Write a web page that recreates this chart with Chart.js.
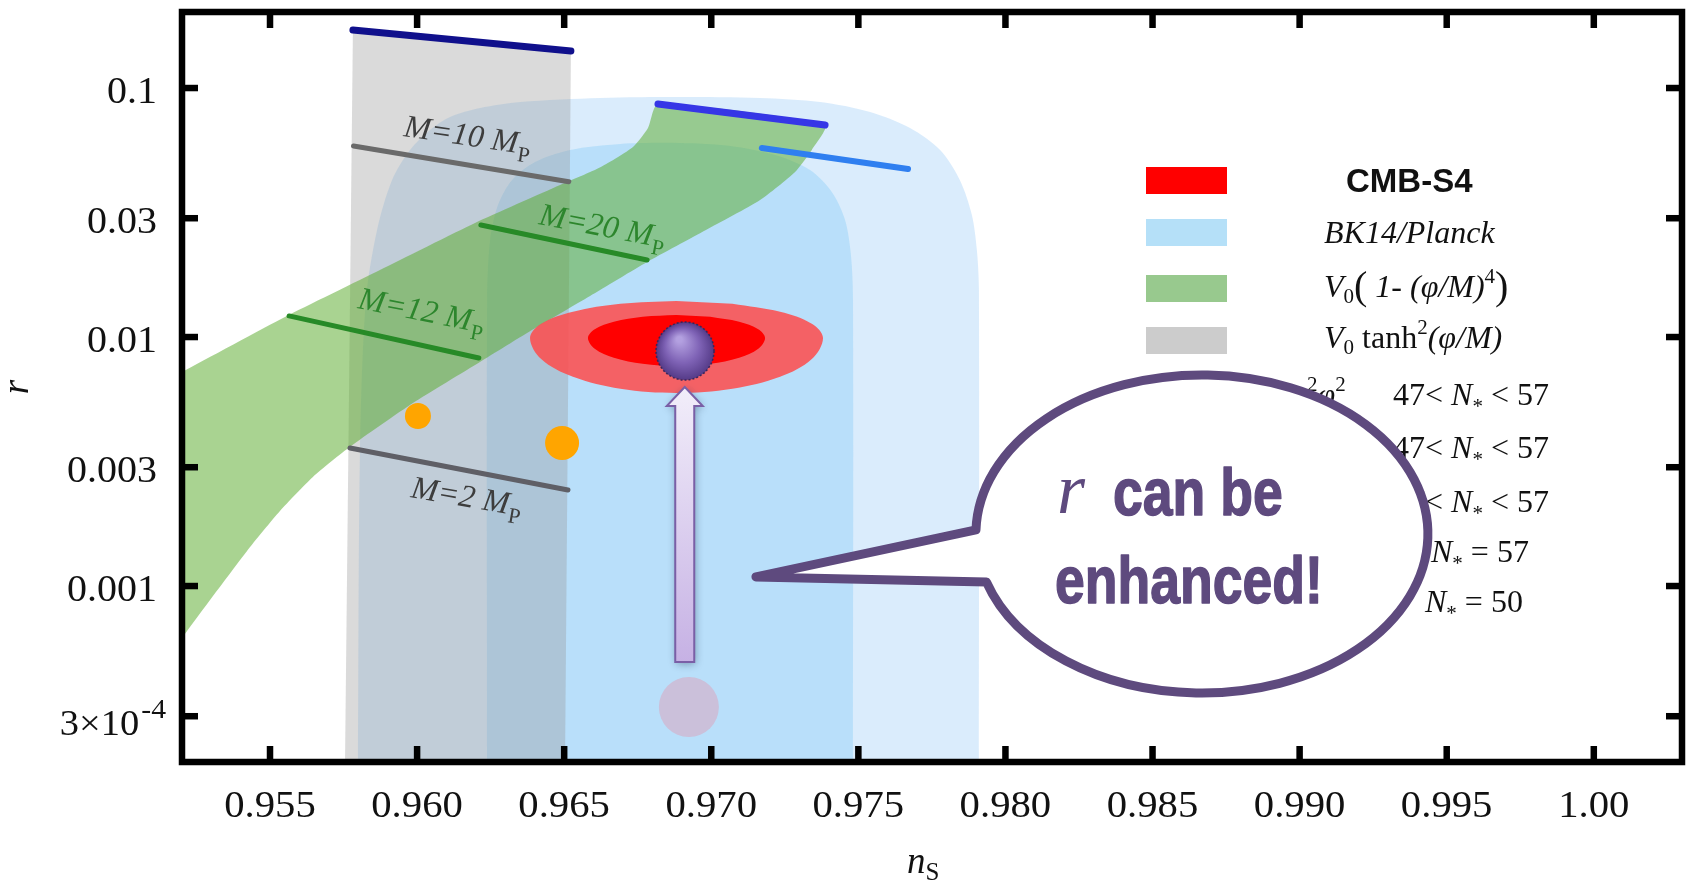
<!DOCTYPE html>
<html>
<head>
<meta charset="utf-8">
<title>r vs n_s</title>
<script src="https://cdn.jsdelivr.net/npm/chart.js@4.4.1/dist/chart.umd.min.js"></script>
<style>
  html, body { margin: 0; padding: 0; background: #fff; }
  canvas { display: block; }
</style>
</head>
<body>
<canvas id="chart" width="1690" height="886"></canvas>
<script>
// axis ticks
const xTickValues = [0.955, 0.960, 0.965, 0.970, 0.975, 0.980, 0.985, 0.990, 0.995, 1.000];
const xTickLabels = ['0.955', '0.960', '0.965', '0.970', '0.975', '0.980', '0.985', '0.990', '0.995', '1.00'];
const yTickValues = [0.0003, 0.001, 0.003, 0.01, 0.03, 0.1];
const yTickLabels = ['3×10^-4', '0.001', '0.003', '0.01', '0.03', '0.1'];

// BK14/Planck allowed regions, [n_s, r]
const bk14Outer = [[0.95799, 0.00019], [0.95806, 0.003517], [0.95826, 0.01408], [0.95864, 0.02690], [0.95915, 0.04272],
  [0.95976, 0.05637], [0.96044, 0.06783], [0.96112, 0.07648], [0.96214, 0.08311], [0.96350, 0.08786], [0.96622, 0.09116],
  [0.96894, 0.09202], [0.97166, 0.09116], [0.97370, 0.08786], [0.97540, 0.08012], [0.97676, 0.06909], [0.97778, 0.05637],
  [0.97845, 0.04272], [0.97886, 0.03090], [0.97903, 0.02235], [0.97910, 0.01544], [0.97910, 0.00019]];
const bk14Inner = [[0.96238, 0.00019], [0.96238, 0.01408], [0.96248, 0.02453], [0.96275, 0.03390], [0.96323, 0.04272],
  [0.96401, 0.05044], [0.96520, 0.05637], [0.96690, 0.05958], [0.96894, 0.06014], [0.97064, 0.05851], [0.97217, 0.05380],
  [0.97336, 0.04684], [0.97410, 0.03823], [0.97455, 0.02951], [0.97475, 0.02135], [0.97482, 0.01408], [0.97482, 0.00019]];

// V0 tanh^2(phi/M)
const tanhBand = [[0.95755, 0.00019], [0.95782, 0.1710], [0.96523, 0.1408], [0.96503, 0.00019]];
const tanhTop = [[0.95782, 0.1710], [0.96523, 0.1408]];
const tanhM10 = [[0.95784, 0.05851], [0.96516, 0.04204]];
const tanhM2 = [[0.95772, 0.003583], [0.96513, 0.002430]];

// V0 (1 - (phi/M)^4)
const quarticBand = [[0.95092, 0.00618], [0.95201, 0.00723], [0.95551, 0.01203], [0.95874, 0.01858], [0.96197, 0.02870],
  [0.96486, 0.04077], [0.96625, 0.04817], [0.96734, 0.05796], [0.96785, 0.06909], [0.96819, 0.08625],
  [0.97387, 0.07100], [0.97342, 0.05637], [0.97285, 0.04600], [0.97166, 0.03550], [0.96982, 0.02690], [0.96782, 0.02001],
  [0.96588, 0.01461], [0.96374, 0.01038], [0.96214, 0.00794], [0.95986, 0.005431], [0.95772, 0.00362], [0.95646, 0.00274],
  [0.95534, 0.002000], [0.95422, 0.001382], [0.95211, 0.0006416], [0.95126, 0.0004599]];
const quarticTop = [[0.96819, 0.08625], [0.97387, 0.07100]];
const quarticSecond = [[0.97172, 0.05741], [0.97669, 0.04728]];
const quarticM12 = [[0.95565, 0.01215], [0.96210, 0.008235]];
const quarticM20 = [[0.96217, 0.02818], [0.96782, 0.02038]];

// CMB-S4 forecast contours
const cmbOuter = [[0.96882, 0.013950], [0.96691, 0.013592], [0.96530, 0.012624], [0.96422, 0.011294], [0.96384, 0.009908],
  [0.96422, 0.008154], [0.96530, 0.006915], [0.96691, 0.006191], [0.96882, 0.005958], [0.97072, 0.006191],
  [0.97234, 0.006915], [0.97342, 0.008154], [0.97380, 0.009908], [0.97342, 0.011294], [0.97234, 0.012624],
  [0.97072, 0.013592]];
const cmbInner = [[0.96882, 0.012260], [0.96767, 0.012059], [0.96669, 0.011516], [0.96604, 0.010747], [0.96581, 0.009908],
  [0.96604, 0.008972], [0.96669, 0.008249], [0.96767, 0.007800], [0.96882, 0.007648], [0.96997, 0.007800],
  [0.97095, 0.008249], [0.97160, 0.008972], [0.97183, 0.009908], [0.97160, 0.010747], [0.97095, 0.011516],
  [0.96997, 0.012059]];

const orangePoints = [[0.96003, 0.004817], [0.96493, 0.003752]];
const rBefore = [[0.96924, 0.0003266]];
const rAfter = [[0.96911, 0.008786]];
const arrowNs = 0.9691, arrowFrom = 0.0004953, arrowTo = 0.006298;
const bubbleCenter = [0.98668, 0.001617], bubbleTip = [0.97152, 0.001087];

const pts = arr => arr.map(p => ({ x: p[0], y: p[1] }));
const serif = '"Liberation Serif", "Times New Roman", serif';

function sphere(r) {
  const c = document.createElement('canvas');
  c.width = c.height = 2 * r + 4;
  const g = c.getContext('2d');
  const m = r + 2;
  const grad = g.createRadialGradient(m - r * 0.2, m - r * 0.4, r * 0.1, m, m, r);
  grad.addColorStop(0, '#b3a0e0');
  grad.addColorStop(0.55, '#7f63b6');
  grad.addColorStop(1, '#553b88');
  g.beginPath();
  g.arc(m, m, r, 0, Math.PI * 2);
  g.fillStyle = grad;
  g.fill();
  g.setLineDash([2, 2]);
  g.strokeStyle = '#36265a';
  g.lineWidth = 1.5;
  g.stroke();
  return c;
}

const shape = (data, color, order, tension) => ({
  data: pts(data), fill: 'shape', backgroundColor: color, borderColor: 'transparent', borderWidth: 0,
  pointRadius: 0, pointHitRadius: 0, tension: tension, order: order
});
const segment = (data, color, width, order) => ({
  data: pts(data), fill: false, borderColor: color, borderWidth: width, borderCapStyle: 'round',
  pointRadius: 0, pointHitRadius: 0, order: order
});

function rich(ctx, x, y, parts) {
  parts.forEach(p => {
    ctx.font = p[1];
    ctx.fillText(p[0], x, y + (p[2] || 0));
    x += ctx.measureText(p[0]).width;
  });
}

function stretched(ctx, text, x, y, align, sx, bold) {
  ctx.save();
  ctx.translate(x, y);
  ctx.scale(sx, 1);
  ctx.textAlign = align;
  ctx.fillText(text, 0, 0);
  if (bold) {
    ctx.lineWidth = bold;
    ctx.strokeStyle = ctx.fillStyle;
    ctx.lineJoin = 'round';
    ctx.strokeText(text, 0, 0);
  }
  ctx.restore();
}

const lineLabels = [
  { text: 'M=10 M', line: tanhM10, at: [0.95952, 0.06416], color: '#3d3d3d' },
  { text: 'M=20 M', line: quarticM20, at: [0.96411, 0.02843], color: '#2d862d' },
  { text: 'M=12 M', line: quarticM12, at: [0.95796, 0.01308], color: '#2d862d' },
  { text: 'M=2 M', line: tanhM2, at: [0.95976, 0.002277], color: '#3d3d3d' }
];

const overlay = {
  id: 'overlay',
  afterDatasetsDraw(chart) {
    const ctx = chart.ctx, xs = chart.scales.x, ys = chart.scales.y;
    const px = v => xs.getPixelForValue(v), py = v => ys.getPixelForValue(v);

    // arrow from today's r to the enhanced r
    const ax = px(arrowNs), yTip = py(arrowTo), yEnd = py(arrowFrom);
    const sw = 9.5, hw = 18, hl = 19;
    ctx.save();
    ctx.beginPath();
    ctx.moveTo(ax, yTip);
    ctx.lineTo(ax + hw, yTip + hl);
    ctx.lineTo(ax + sw, yTip + hl);
    ctx.lineTo(ax + sw, yEnd);
    ctx.lineTo(ax - sw, yEnd);
    ctx.lineTo(ax - sw, yTip + hl);
    ctx.lineTo(ax - hw, yTip + hl);
    ctx.closePath();
    const g = ctx.createLinearGradient(0, yTip, 0, yEnd);
    g.addColorStop(0, '#f2eefa');
    g.addColorStop(1, '#c6b1e4');
    ctx.shadowColor = 'rgba(40,60,90,0.45)';
    ctx.shadowBlur = 8;
    ctx.shadowOffsetX = 1;
    ctx.shadowOffsetY = 2;
    ctx.fillStyle = g;
    ctx.fill();
    ctx.shadowColor = 'transparent';
    ctx.strokeStyle = '#7a5fa6';
    ctx.lineWidth = 2;
    ctx.stroke();
    ctx.restore();

    // labels along the M lines
    lineLabels.forEach(l => {
      const p0 = l.line[0], p1 = l.line[1];
      const ang = Math.atan2(py(p1[1]) - py(p0[1]), px(p1[0]) - px(p0[0]));
      ctx.save();
      ctx.translate(px(l.at[0]), py(l.at[1]));
      ctx.rotate(ang * 0.9);
      ctx.fillStyle = l.color;
      ctx.textAlign = 'left';
      ctx.textBaseline = 'alphabetic';
      ctx.font = 'italic 32px ' + serif;
      ctx.fillText(l.text, 0, 0);
      const w = ctx.measureText(l.text).width;
      ctx.font = '22px ' + serif;
      ctx.fillText('P', w + 1, 8);
      ctx.restore();
    });
  },
  afterDraw(chart) {
    const ctx = chart.ctx, a = chart.chartArea, xs = chart.scales.x, ys = chart.scales.y;
    const px = v => xs.getPixelForValue(v), py = v => ys.getPixelForValue(v);
    ctx.save();
    ctx.textBaseline = 'alphabetic';

    // frame and inward ticks
    ctx.strokeStyle = '#000';
    ctx.fillStyle = '#000';
    ctx.lineWidth = 6.5;
    ctx.strokeRect(a.left, a.top, a.right - a.left, a.bottom - a.top);
    xTickValues.forEach(v => {
      const x = px(v);
      ctx.fillRect(x - 3.2, a.bottom - 16, 6.5, 16);
      ctx.fillRect(x - 3.2, a.top, 6.5, 16);
    });
    yTickValues.forEach(v => {
      const y = py(v);
      ctx.fillRect(a.left, y - 3.2, 16, 6.5);
      ctx.fillRect(a.right - 16, y - 3.2, 16, 6.5);
    });

    // tick labels
    ctx.fillStyle = '#111';
    ctx.font = '37px ' + serif;
    xTickValues.forEach((v, i) => stretched(ctx, xTickLabels[i], px(v), a.bottom + 55, 'center', 1.1));
    yTickValues.forEach((v, i) => {
      const y = py(v);
      const parts = yTickLabels[i].split('^');
      if (parts.length > 1) {
        ctx.font = '27px ' + serif;
        const w = ctx.measureText(parts[1]).width * 1.1;
        stretched(ctx, parts[1], a.left - 16, y + 2, 'right', 1.1);
        ctx.font = '35px ' + serif;
        stretched(ctx, parts[0], a.left - 18 - w, y + 19, 'right', 1.1);
      } else {
        ctx.font = '37px ' + serif;
        stretched(ctx, parts[0], a.left - 25, y + 15, 'right', 1.08);
      }
    });

    // axis titles
    const cx = (a.left + a.right) / 2;
    ctx.textAlign = 'left';
    rich(ctx, cx - 25, a.bottom + 111, [['n', 'italic 37px ' + serif], ['S', '25px ' + serif, 7]]);
    ctx.save();
    ctx.translate(28, (a.top + a.bottom) / 2);
    ctx.rotate(-Math.PI / 2);
    ctx.textAlign = 'center';
    ctx.font = 'italic 37px ' + serif;
    ctx.fillText('r', 0, 0);
    ctx.restore();

    // legend
    const IT = 'italic 32px ' + serif, RM = '32px ' + serif, SUB = '21px ' + serif, BIG = '40px ' + serif;
    [['#ff0000', 180], ['#b5e0f8', 232], ['#98c98e', 288], ['#cccccc', 340]].forEach(s => {
      ctx.fillStyle = s[0];
      ctx.fillRect(1146, s[1] - 13, 81, 27);
    });
    ctx.fillStyle = '#111';
    rich(ctx, 1346, 192, [['CMB-S4', 'bold 33px "Liberation Sans", Arial, sans-serif']]);
    rich(ctx, 1324, 243, [['BK14/Planck', IT]]);
    rich(ctx, 1324, 297, [['V', IT], ['0', SUB, 6], ['(', BIG, 2], [' 1- (φ/M)', IT], ['4', SUB, -14], [')', BIG, 2]]);
    rich(ctx, 1324, 348, [['V', IT], ['0', SUB, 6], [' tanh', RM], ['2', SUB, -14], ['(φ/M)', IT]]);
    rich(ctx, 1284, 405, [['m', IT], ['2', SUB, -14], ['φ', IT], ['2', SUB, -14]]);
    [405, 458, 512].forEach(y => rich(ctx, 1393, y, [['47< ', RM], ['N', IT], ['*', SUB, 8], [' < 57', RM]]));
    rich(ctx, 1431, 562, [['N', IT], ['*', SUB, 8], [' = 57', RM]]);
    rich(ctx, 1425, 612, [['N', IT], ['*', SUB, 8], [' = 50', RM]]);

    // speech bubble
    const bx = px(bubbleCenter[0]), by = py(bubbleCenter[1]);
    ctx.beginPath();
    ctx.ellipse(bx, by, 226, 159, 0, 181.5 * Math.PI / 180, (162.4 + 360) * Math.PI / 180);
    ctx.lineTo(px(bubbleTip[0]), py(bubbleTip[1]));
    ctx.closePath();
    ctx.fillStyle = '#fff';
    ctx.fill();
    ctx.lineWidth = 9;
    ctx.lineJoin = 'round';
    ctx.strokeStyle = '#5e4a7e';
    ctx.stroke();

    ctx.fillStyle = '#5e4a7e';
    ctx.textAlign = 'left';
    ctx.font = 'italic 72px ' + serif;
    ctx.fillText('r', bx - 145, by - 21);
    ctx.font = 'bold 67px "Liberation Sans", Arial, sans-serif';
    stretched(ctx, 'can be', bx - 89, by - 19, 'left', 0.8, 1.5);
    stretched(ctx, 'enhanced!', bx - 147, by + 69, 'left', 0.8, 1.5);
    ctx.restore();
  }
};

new Chart(document.getElementById('chart'), {
  type: 'line',
  data: {
    datasets: [
      shape(bk14Outer, 'rgba(150,200,245,0.35)', 20, 0.3),
      shape(bk14Inner, 'rgba(110,195,245,0.3)', 19, 0.3),
      shape(tanhBand, 'rgba(150,150,150,0.35)', 18, 0),
      shape(quarticBand, 'rgba(90,170,45,0.52)', 17, 0.2),
      segment(tanhTop, '#10108c', 7, 12),
      segment(tanhM10, '#6a6a6a', 5, 12),
      segment(tanhM2, '#5f5f66', 5, 12),
      segment(quarticM12, '#278a27', 5, 12),
      segment(quarticM20, '#278a27', 5, 12),
      segment(quarticTop, '#3636e6', 7, 12),
      segment(quarticSecond, '#2f7ff0', 6, 12),
      shape(cmbOuter, 'rgba(255,75,75,0.85)', 8, 0.35),
      shape(cmbInner, '#ff0000', 7, 0.35),
      { data: pts(orangePoints), showLine: false, pointRadius: [13, 17], pointBackgroundColor: '#ffa500',
        pointBorderWidth: 0, pointBorderColor: 'transparent', order: 5 },
      { data: pts(rBefore), showLine: false, pointRadius: 30, pointBackgroundColor: '#cbc0da',
        pointBorderWidth: 0, pointBorderColor: 'transparent', order: 4 },
      { data: pts(rAfter), showLine: false, pointRadius: 30, pointStyle: sphere(29), order: 3 }
    ]
  },
  options: {
    responsive: false,
    animation: false,
    events: [],
    layout: { autoPadding: false, padding: { left: 0, right: 8, top: 12, bottom: 0 } },
    plugins: { legend: { display: false }, tooltip: { enabled: false } },
    scales: {
      x: {
        type: 'linear', min: 0.95201, max: 1.003,
        grid: { display: false }, border: { display: false }, ticks: { display: false },
        afterFit: s => { s.height = 124; }
      },
      y: {
        type: 'logarithmic', min: 1.9638e-4, max: 0.2019,
        grid: { display: false }, border: { display: false }, ticks: { display: false },
        afterFit: s => { s.width = 182; }
      }
    }
  },
  plugins: [overlay]
});
</script>
</body>
</html>
